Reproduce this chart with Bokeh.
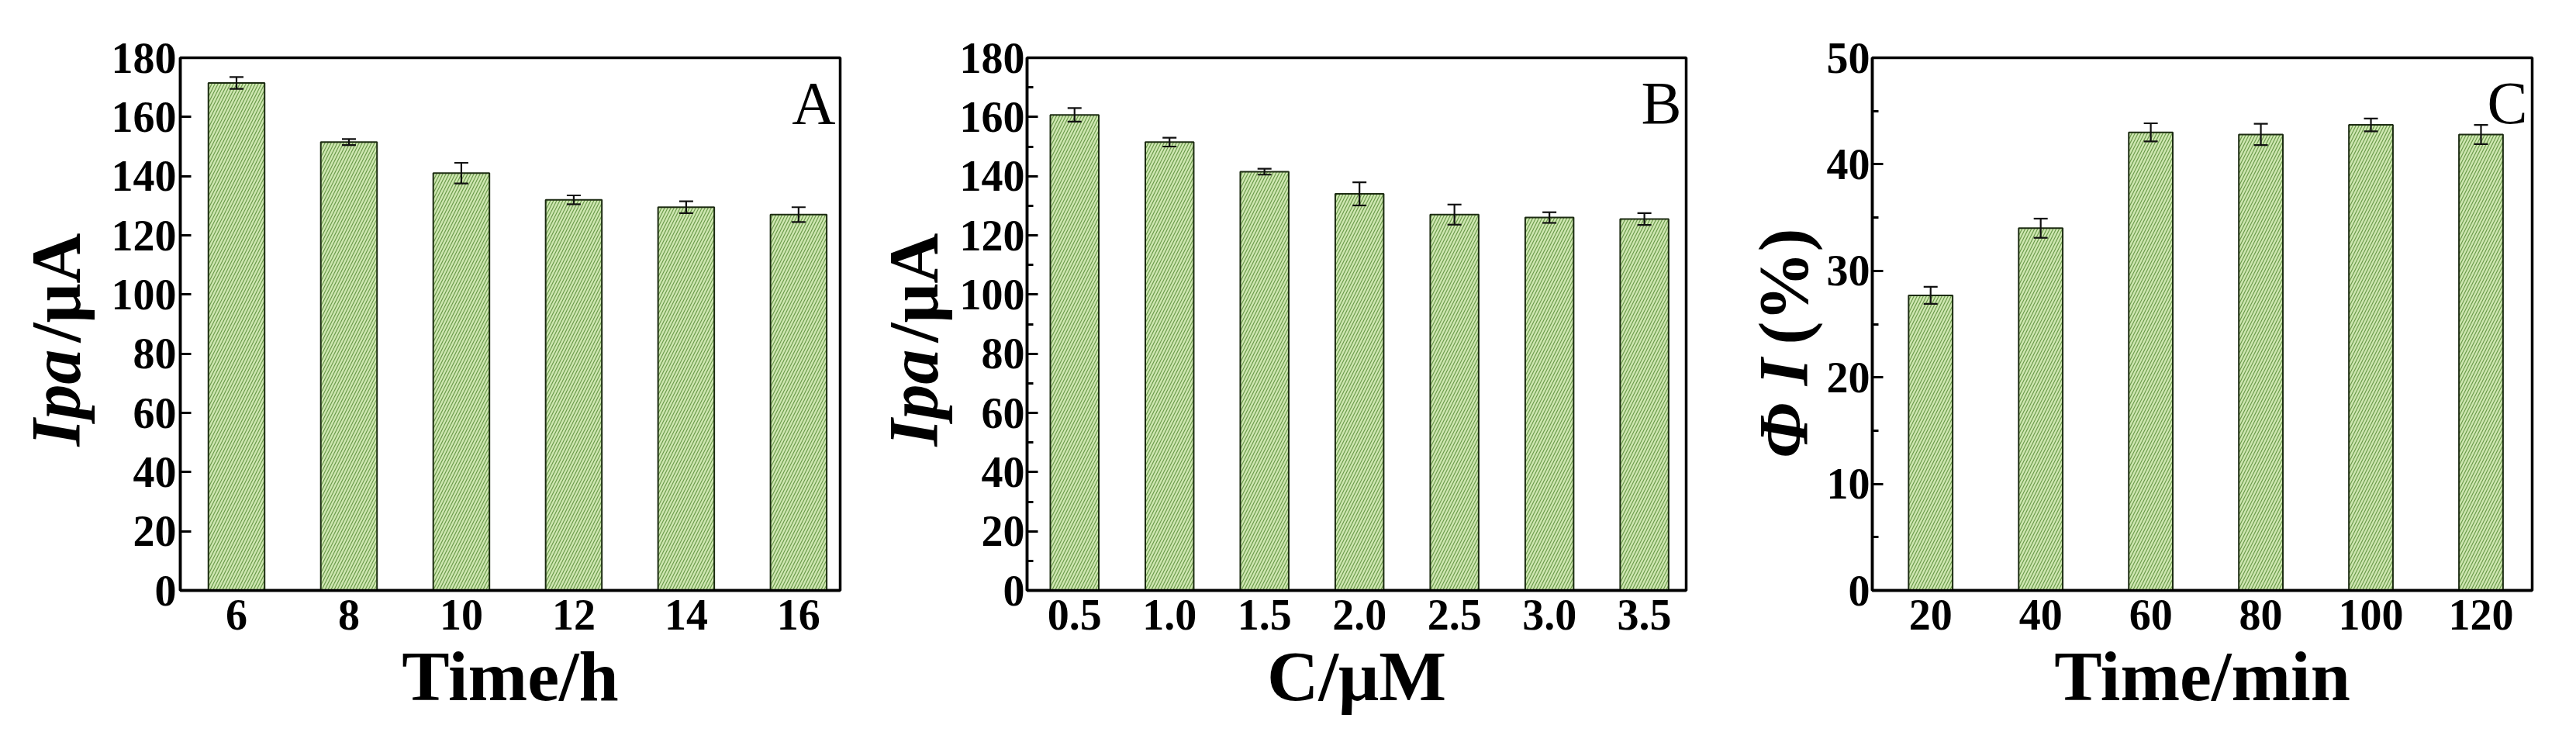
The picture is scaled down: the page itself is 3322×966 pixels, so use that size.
import math
from bokeh.plotting import figure
from bokeh.models import (ColumnDataSource, Range1d, FixedTicker, SingleIntervalTicker,
                          Whisker, TeeHead, Label, NumeralTickFormatter)
from bokeh.core.properties import value
from bokeh.layouts import row
from bokeh.embed import file_html
from bokeh.resources import INLINE

# ---------------- data ----------------
time_h = [6, 8, 10, 12, 14, 16]
ipa_time = [171.5, 151.5, 141.0, 132.0, 129.5, 127.0]
ipa_time_err = [2.0, 1.0, 3.5, 1.5, 2.0, 2.5]

conc_um = [0.5, 1.0, 1.5, 2.0, 2.5, 3.0, 3.5]
ipa_conc = [160.7, 151.5, 141.5, 134.0, 127.0, 126.0, 125.5]
ipa_conc_err = [2.3, 1.5, 1.0, 3.9, 3.4, 1.8, 2.0]

time_min = [20, 40, 60, 80, 100, 120]
phi_i = [27.7, 34.0, 43.0, 42.8, 43.7, 42.8]
phi_i_err = [0.8, 0.9, 0.85, 1.0, 0.6, 0.9]

# ---------------- style ----------------
SERIF = "Liberation Serif"
FILL = "#cfe7b1"
HATCH = "#6a9a4a"
TICK_FS = "56px"
TITLE_FS = "92px"
YT_FS = "90px"
FRAME_TOP = 74
FRAME_BOTTOM_BORDER = 189
FIG_H = 950
FH = FIG_H - FRAME_TOP - FRAME_BOTTOM_BORDER


def title_fig(tw, yr, parts, xc):
    span = yr[1] - yr[0]
    lo = yr[0] - FRAME_BOTTOM_BORDER / FH * span
    hi = yr[1] + FRAME_TOP / FH * span
    t = figure(width=tw, height=FIG_H, x_range=Range1d(0, tw), y_range=Range1d(lo, hi),
               output_backend="svg", toolbar_location=None,
               x_axis_location=None, y_axis_location=None,
               min_border_left=0, min_border_right=0, min_border_top=0, min_border_bottom=0)
    t.grid.visible = False
    t.outline_line_color = None
    for txt, style, center in parts:
        t.text(x=[xc], y=[center], text=[txt], angle=math.pi / 2,
               text_font=value(SERIF), text_font_size=YT_FS, text_font_style=style,
               text_align="center", text_baseline="middle", text_color="black")
    return t


def make_panel(x, y, err, xr, yr, bar_w, y_interval, minor, letter, xlabel,
               left, right, width, fmt=None, standoff=5):
    fw = width - left - right
    p = figure(width=width, height=FIG_H, x_range=Range1d(*xr), y_range=Range1d(*yr),
               output_backend="svg", toolbar_location=None,
               min_border_left=left, min_border_right=right,
               min_border_top=FRAME_TOP, min_border_bottom=FRAME_BOTTOM_BORDER)
    p.grid.visible = False
    p.outline_line_color = "black"
    p.outline_line_width = 3.5
    p.background_fill_color = "white"
    p.border_fill_color = "white"

    src = ColumnDataSource(dict(x=x, top=y, upper=[a + b for a, b in zip(y, err)],
                                lower=[a - b for a, b in zip(y, err)]))
    p.vbar(x="x", top="top", bottom=0, width=bar_w, source=src,
           fill_color=FILL, line_color="#1c2b12", line_width=2,
           hatch_pattern="/", hatch_color=HATCH, hatch_scale=8, hatch_weight=1.2)
    wh = Whisker(base="x", upper="upper", lower="lower", source=src,
                 line_color="#111111", line_width=2.2, level="overlay",
                 upper_head=TeeHead(size=18, line_width=2.2, line_color="#111111"),
                 lower_head=TeeHead(size=18, line_width=2.2, line_color="#111111"))
    p.add_layout(wh)

    xa = p.xaxis[0]
    xa.ticker = FixedTicker(ticks=list(x))
    if fmt:
        xa.formatter = NumeralTickFormatter(format=fmt)
    xa.major_tick_in = 0
    xa.major_tick_out = 0
    xa.minor_tick_in = 0
    xa.minor_tick_out = 0
    xa.axis_line_width = 3.5
    xa.major_label_text_font = SERIF
    xa.major_label_text_font_style = "bold"
    xa.major_label_text_font_size = TICK_FS
    xa.major_label_text_color = "black"
    xa.major_label_standoff = 12
    xa.axis_label = xlabel
    xa.axis_label_text_font = SERIF
    xa.axis_label_text_font_style = "bold"
    xa.axis_label_text_font_size = TITLE_FS
    xa.axis_label_text_color = "black"
    xa.axis_label_standoff = 6

    ya = p.yaxis[0]
    ya.ticker = SingleIntervalTicker(interval=y_interval, num_minor_ticks=minor)
    ya.major_tick_in = 14
    ya.major_tick_out = 0
    ya.major_tick_line_width = 3
    ya.minor_tick_in = 8
    ya.minor_tick_out = 0
    ya.minor_tick_line_width = 3
    ya.axis_line_width = 3.5
    ya.major_label_text_font = SERIF
    ya.major_label_text_font_style = "bold"
    ya.major_label_text_font_size = TICK_FS
    ya.major_label_text_color = "black"
    ya.major_label_standoff = standoff

    def dx(px):
        return xr[0] + px / fw * (xr[1] - xr[0])

    def dy(px):
        return yr[0] + px / FH * (yr[1] - yr[0])

    p.add_layout(Label(x=dx(fw - 6), y=dy(FH - 58), text=letter, text_font=SERIF,
                       text_font_size="78px", text_font_style="normal",
                       text_align="right", text_baseline="alphabetic", text_color="black"))
    return p


# group A: title 140 + panel (91 | 852 | 17) = 1100
tA = title_fig(140, (0, 180), [("Ipa", "bold italic", 40.5), ("/\u03bcA", "bold", 92)], 72)
pA = make_panel(time_h, ipa_time, ipa_time_err, (5.0, 16.74), (0, 180), 1.0, 20, 0,
                "A", "Time/h", 91, 17, 960)
# group B: title 134 + panel (88 | 852 | 16) = 1090
tB = title_fig(134, (0, 180), [("Ipa", "bold italic", 40.5), ("/\u03bcA", "bold", 92)], 78)
pB = make_panel(conc_um, ipa_conc, ipa_conc_err, (0.25, 3.72), (0, 180), 0.255, 20, 2,
                "B", "C/\u03bcM", 88, 16, 956, fmt="0.0", standoff=3)
# group C: title 162 + panel (59 | 854 | 41) = 1116
tC = title_fig(162, (0, 50), [("\u03a6 I", "bold italic", 9.9), ("(%)", "bold", 25.7)], 110)
pC = make_panel(time_min, phi_i, phi_i_err, (9.4, 129.3), (0, 50), 8.0, 10, 2,
                "C", "Time/min", 59, 41, 954, standoff=3)

layout = row(tA, pA, tB, pB, tC, pC)
open("out.html", "w").write(file_html(layout, INLINE))
